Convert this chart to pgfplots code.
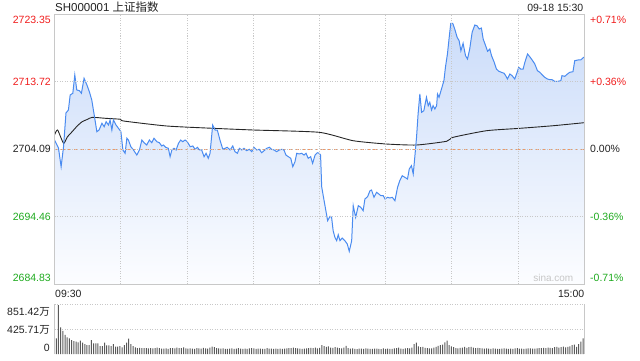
\documentclass[border=0pt]{standalone}
\usepackage{pgfplots}
\pgfplotsset{compat=1.18}
\usepackage{pgfplotstable}
\usepackage{fontspec}
\setmainfont{Liberation Sans}
\newfontfamily\cjk{Noto Sans CJK SC}
\definecolor{pline}{RGB}{74,139,240}
\definecolor{ftop}{RGB}{203,220,249}
\definecolor{fbot}{RGB}{252,253,255}
\definecolor{gridc}{RGB}{200,200,200}
\definecolor{upred}{RGB}{240,30,30}
\definecolor{dngreen}{RGB}{30,170,30}
\definecolor{prevc}{RGB}{240,150,100}
\definecolor{volc}{RGB}{90,90,90}
\definecolor{txt}{RGB}{34,34,34}

\pgfplotstableread{
m p
0 2705.37
1.8 2704.23
3.0 2701.56
4.1 2704.42
5.2 2709.23
6.3 2709.65
7.1 2711.79
8.3 2712.04
9.2 2714.65
10.1 2712.51
11.3 2712.41
12.2 2712.04
13.4 2714.18
14.7 2713.22
15.8 2712.26
16.9 2711.08
18.0 2708.94
19.2 2706.56
20.2 2706.80
21.5 2707.76
22.5 2707.27
23.4 2707.98
24.5 2707.51
25.2 2708.23
26.0 2706.80
26.7 2708.23
27.9 2707.51
29.0 2707.04
30.1 2706.56
31.0 2703.95
32.0 2703.48
32.8 2705.62
33.5 2705.37
34.6 2704.42
35.8 2703.95
37.3 2703.23
38.5 2703.95
39.6 2705.37
40.6 2704.99
41.8 2704.66
43.0 2705.37
44.1 2704.99
45.1 2705.62
46.4 2705.13
47.5 2704.99
48.6 2704.52
49.4 2704.66
50.4 2704.33
51.6 2704.19
52.4 2702.99
53.2 2703.95
54.2 2704.19
55.1 2703.95
56.2 2704.90
57.2 2705.37
58.1 2705.13
59.2 2705.37
60.2 2705.13
61.5 2704.42
62.7 2704.52
63.7 2704.05
64.8 2704.33
65.7 2703.95
66.7 2703.95
67.8 2702.99
68.7 2703.48
69.7 2702.76
70.5 2703.48
71.7 2707.51
72.8 2706.80
73.8 2706.80
75.0 2705.37
76.3 2704.05
77.3 2704.19
78.3 2704.33
79.6 2703.95
80.8 2704.52
81.8 2703.71
82.9 2703.48
83.8 2704.19
84.9 2703.95
85.9 2704.19
87.1 2703.85
88.3 2704.05
89.4 2703.71
90.4 2704.33
91.7 2703.95
92.8 2704.05
93.9 2703.56
95.0 2703.85
96.2 2704.19
97.4 2704.33
98.4 2704.05
99.5 2703.95
100.7 2703.71
101.9 2703.95
103.0 2704.05
104.0 2703.95
104.9 2703.23
106.0 2702.99
107.1 2702.76
108.0 2701.56
109.0 2702.28
109.8 2703.48
110.9 2703.38
112.0 2703.48
113.1 2703.23
114.0 2703.48
115.0 2702.76
116.1 2702.99
117.0 2702.05
118.1 2703.23
119.1 2703.56
120.0 2703.48
120.6 2703.23
121.1 2698.71
121.8 2697.43
122.6 2696.00
123.8 2693.86
124.9 2694.49
125.6 2694.34
126.3 2692.43
127.1 2691.49
127.9 2691.01
128.6 2691.86
129.4 2691.01
130.4 2691.39
131.6 2691.01
132.7 2690.54
133.6 2689.49
134.7 2691.01
135.4 2696.00
136.5 2694.34
137.7 2696.00
138.8 2695.77
139.9 2695.29
140.7 2696.96
141.9 2697.28
143.0 2698.14
143.7 2698.24
144.8 2697.20
146.0 2697.91
147.0 2697.67
147.9 2697.43
149.0 2697.43
149.8 2696.96
151.0 2697.20
152.0 2697.10
153.1 2697.20
154.3 2696.71
155.5 2698.63
156.5 2699.57
157.6 2700.28
158.8 2700.05
160.0 2699.81
160.8 2701.24
161.8 2701.71
162.6 2700.52
163.3 2702.91
164.1 2705.76
164.8 2709.08
165.6 2711.94
166.4 2709.33
167.4 2709.55
168.6 2711.47
169.4 2710.27
170.1 2710.75
170.9 2709.65
171.6 2710.27
172.4 2709.80
173.2 2710.27
173.6 2711.94
174.3 2711.47
175.4 2712.65
176.5 2713.83
177.2 2715.75
178.1 2717.64
178.9 2720.03
179.6 2722.02
180.5 2722.02
181.4 2721.21
182.5 2720.03
183.4 2719.54
184.2 2718.11
185.2 2719.17
186.3 2717.40
187.2 2716.93
188.2 2718.36
189.3 2720.74
190.5 2721.78
191.5 2721.68
192.5 2721.21
193.5 2721.35
194.3 2719.78
195.4 2718.83
196.3 2718.03
197.3 2718.36
198.1 2717.40
199.3 2716.46
200.3 2715.50
201.4 2715.18
202.6 2715.03
203.8 2714.89
204.5 2714.55
205.3 2714.08
206.4 2714.79
207.4 2714.55
208.6 2714.08
209.7 2715.03
210.4 2715.75
211.3 2715.50
212.4 2715.50
213.2 2716.46
214.4 2717.64
215.4 2717.26
216.5 2716.79
217.7 2716.22
218.9 2715.26
220.0 2715.03
221.0 2714.69
222.2 2714.32
223.4 2714.08
224.5 2713.98
225.5 2713.98
226.7 2713.75
228.2 2713.75
229.5 2713.83
230.0 2714.55
231.3 2714.46
232.5 2714.79
233.5 2715.03
235.0 2715.12
235.8 2716.69
237.3 2716.79
238.5 2716.79
240.0 2717.21
}\price

\pgfplotstableread{
m a
0 2706.09
1.4 2706.80
4.1 2704.90
5.8 2705.80
8.0 2706.56
10.3 2707.37
12.5 2707.98
14.8 2708.30
17.1 2708.61
23.1 2708.47
29.9 2708.33
31.4 2708.08
50.9 2707.37
72.0 2707.04
90.1 2706.80
120.0 2706.47
135.4 2705.27
150.5 2704.80
164.1 2704.66
177.7 2705.19
180.7 2705.76
195.8 2706.70
210.9 2707.04
226.0 2707.41
240 2707.84
}\avg

\pgfplotstableread{
m v
0 267
1 834
2 455
3 392
4 324
5 284
6 267
7 238
8 221
9 210
10 199
11 227
12 193
13 170
14 153
15 153
16 238
17 182
18 182
19 182
20 136
21 136
22 193
23 148
24 148
25 136
26 170
27 125
28 125
29 136
30 114
31 153
32 193
33 261
34 170
35 136
36 114
37 100
38 105
39 98
40 102
41 100
42 96
43 98
44 95
45 102
46 110
47 98
48 92
49 90
50 96
51 88
52 102
53 98
54 95
55 110
56 100
57 98
58 112
59 94
60 90
61 96
62 92
63 88
64 100
65 94
66 90
67 105
68 96
69 92
70 110
71 125
72 118
73 100
74 96
75 90
76 94
77 88
78 86
79 92
80 96
81 88
82 90
83 100
84 92
85 86
86 90
87 88
88 94
89 100
90 96
91 88
92 92
93 90
94 86
95 88
96 98
97 92
98 90
99 86
100 90
101 88
102 92
103 86
104 90
105 94
106 98
107 100
108 110
109 102
110 94
111 90
112 88
113 92
114 96
115 100
116 104
117 98
118 110
119 96
120 105
121 150
122 135
123 120
124 128
125 110
126 104
127 115
128 108
129 100
130 96
131 110
132 140
133 100
134 90
135 95
136 88
137 85
138 92
139 90
140 88
141 96
142 90
143 86
144 88
145 92
146 90
147 86
148 84
149 96
150 88
151 90
152 86
153 88
154 94
155 98
156 110
157 92
158 88
159 96
160 100
161 96
162 110
163 170
164 193
165 130
166 115
167 120
168 105
169 100
170 96
171 94
172 110
173 120
174 140
175 150
176 160
177 200
178 227
179 150
180 130
181 115
182 100
183 96
184 104
185 110
186 120
187 105
188 115
189 120
190 110
191 100
192 104
193 98
194 96
195 92
196 96
197 90
198 88
199 94
200 90
201 86
202 88
203 92
204 96
205 90
206 86
207 92
208 88
209 94
210 98
211 92
212 90
213 88
214 92
215 96
216 94
217 90
218 92
219 96
220 100
221 98
222 104
223 100
224 110
225 104
226 100
227 115
228 120
229 110
230 118
231 125
232 112
233 120
234 130
235 150
236 160
237 120
238 170
239 210
240 267
}\vol

\begin{document}
\begin{tikzpicture}[font=\fontsize{10.5}{12}\selectfont,
  lab/.style={inner sep=0pt}]
\useasboundingbox (0pt,0pt) rectangle (640pt,360pt);

\begin{axis}[at={(54.5pt,76pt)}, anchor=south west, scale only axis,
  width=529.5pt, height=270pt,
  xmin=0, xmax=240, ymin=2684.83, ymax=2723.35,
  xtick={0,30,...,240}, ytick={2684.83,2694.46,2704.09,2713.72,2723.35},
  xticklabels={}, yticklabels={}, major tick length=0pt,
  grid=major, grid style={gridc, dash pattern=on 1pt off 1.5pt, line width=0.6pt},
  axis line style={gridc, line width=0.8pt}, axis on top]
\addplot[draw=none, top color=ftop, bottom color=fbot] table[x=m,y=p] {\price}
  -- (axis cs:240,2684.83) -- (axis cs:0,2684.83) -- cycle;
\addplot[prevc, line width=0.8pt, dash pattern=on 3.5pt off 3pt] coordinates {(0,2704.09) (240,2704.09)};
\addplot[black!85, line width=0.9pt, smooth, tension=0.35] table[x=m,y=a] {\avg};
\addplot[pline, line width=1pt] table[x=m,y=p] {\price};
\end{axis}

\begin{axis}[at={(54.5pt,6pt)}, anchor=south west, scale only axis,
  width=529.5pt, height=50pt,
  xmin=-0.8, xmax=240.4, ymin=0, ymax=851.42,
  xtick=\empty, ytick={425.71,851.42}, yticklabels={}, major tick length=0pt,
  ymajorgrids, grid style={gridc, dash pattern=on 1pt off 1.5pt, line width=0.6pt},
  axis line style={draw=none}, clip=false]
\addplot[ybar, bar width=1pt, fill=volc, draw=none] table[x=m,y=v] {\vol};
\end{axis}
\draw[gridc, line width=0.8pt] (54.5pt,6pt) -- (54.5pt,56pt);
\draw[gridc, line width=0.8pt] (584pt,6pt) -- (584pt,56pt);

% title
\node[lab, anchor=base west, txt, font=\fontsize{11.5}{13}\selectfont] at (55pt,348.3pt) {SH000001 {\cjk 上证指数}};
\node[lab, anchor=base east, txt] at (583.5pt,349pt) {09-18 15:30};
% left labels
\node[lab, anchor=east, upred] at (51pt,340pt) {2723.35};
\node[lab, anchor=east, upred] at (51pt,277.7pt) {2713.72};
\node[lab, anchor=east, txt] at (51pt,210.7pt) {2704.09};
\node[lab, anchor=east, dngreen] at (51pt,142.7pt) {2694.46};
\node[lab, anchor=east, dngreen] at (51pt,82pt) {2684.83};
% right labels
\node[lab, anchor=west, upred] at (590pt,340pt) {+0.71\%};
\node[lab, anchor=west, upred] at (590pt,277.7pt) {+0.36\%};
\node[lab, anchor=west, txt] at (590pt,210.7pt) {0.00\%};
\node[lab, anchor=west, dngreen] at (590pt,142.7pt) {-0.36\%};
\node[lab, anchor=west, dngreen] at (590pt,82pt) {-0.71\%};
% time labels
\node[lab, anchor=west, txt] at (55pt,66pt) {09:30};
\node[lab, anchor=east, txt] at (584.5pt,66pt) {15:00};
% watermark
\node[lab, anchor=base east, black!22, font=\fontsize{10}{12}\selectfont] at (573.5pt,78.5pt) {sina.com};
% volume labels
\node[lab, anchor=east, txt] at (50pt,48.3pt) {851.42{\cjk 万}};
\node[lab, anchor=east, txt] at (50pt,30pt) {425.71{\cjk 万}};
\node[lab, anchor=east, txt] at (50pt,11.7pt) {0};
\end{tikzpicture}
\end{document}
